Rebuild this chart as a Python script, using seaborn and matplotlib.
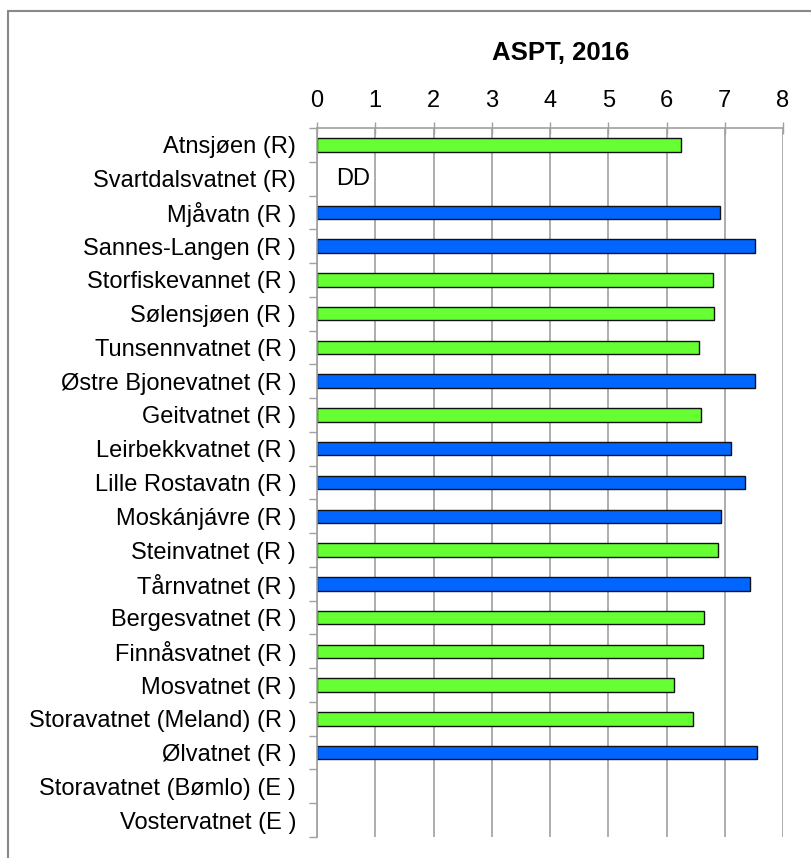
import matplotlib
matplotlib.use("Agg")
import matplotlib.pyplot as plt
import numpy as np
import pandas as pd
import seaborn as sns

lakes = [
    "Atnsjøen (R)", "Svartdalsvatnet (R)", "Mjåvatn (R )", "Sannes-Langen (R )",
    "Storfiskevannet (R )", "Sølensjøen (R )", "Tunsennvatnet (R )",
    "Østre Bjonevatnet (R )", "Geitvatnet (R )", "Leirbekkvatnet (R )",
    "Lille Rostavatn (R )", "Moskánjávre (R )", "Steinvatnet (R )",
    "Tårnvatnet (R )", "Bergesvatnet (R )", "Finnåsvatnet (R )",
    "Mosvatnet (R )", "Storavatnet (Meland) (R )", "Ølvatnet (R )",
    "Storavatnet (Bømlo) (E )", "Vostervatnet (E )",
]
aspt = [6.25, np.nan, 6.92, 7.52, 6.79, 6.82, 6.56, 7.52, 6.60, 7.10,
        7.34, 6.94, 6.89, 7.44, 6.65, 6.63, 6.13, 6.46, 7.56, np.nan, np.nan]
group = ["g", "none", "b", "b", "g", "g", "g", "b", "g", "b",
         "b", "b", "g", "b", "g", "g", "g", "g", "b", "none", "none"]
x_ticks = [0, 1, 2, 3, 4, 5, 6, 7, 8]

df = pd.DataFrame({"Lake": lakes, "ASPT": aspt, "Group": group})
palette = {"g": "#66FF33", "b": "#0066FF", "none": "white"}

sns.set_style("white")
plt.rcParams["font.family"] = ["Liberation Sans", "DejaVu Sans"]
plt.rcParams["text.color"] = "black"

fig = plt.figure(figsize=(8.12, 8.58), dpi=100)
ax = fig.add_axes([0.3904, 0.0245, 0.5739, 0.8263])

sns.barplot(data=df.dropna(), x="ASPT", y="Lake", hue="Group", order=lakes,
            palette=palette, saturation=1, dodge=False, width=0.4, orient="h",
            edgecolor="#111111", linewidth=1, legend=False, ax=ax)

ax.set_xlim(0, 8)
ax.set_ylim(len(lakes) - 0.5, -0.5)
ax.set_xticks(x_ticks)
ax.xaxis.tick_top()
ax.tick_params(axis="x", which="major", direction="inout", length=9, width=1,
               color="#A0A0A0", labelsize=17, labelcolor="black", pad=7)
ax.set_xlabel("")
ax.set_ylabel("")
ax.grid(axis="x", color="#A0A0A0", linewidth=1.2)
ax.set_axisbelow(True)

ax.set_yticks(np.arange(len(lakes)))
ax.set_yticklabels(lakes)
ax.set_yticks(np.arange(len(lakes) + 1) - 0.5, minor=True)
ax.tick_params(axis="y", which="major", length=0, labelsize=17,
               labelcolor="black", pad=15)
ax.tick_params(axis="y", which="minor", direction="out", length=6, width=1,
               color="#A0A0A0", left=True)

for side in ["right", "bottom"]:
    ax.spines[side].set_visible(False)
for side in ["top", "left"]:
    ax.spines[side].set_color("#A0A0A0")
    ax.spines[side].set_linewidth(1.2)

ax.text(0.33, 1, "DD", fontsize=17, ha="left", va="center")

fig.text(561 / 812, 1 - 53 / 858, "ASPT, 2016", ha="center", va="center",
         fontsize=18.5, fontweight="bold")

# outer chart frame
fig.add_artist(plt.Line2D([8 / 812, 1], [1 - 11 / 858, 1 - 11 / 858],
                          color="#888888", linewidth=1.5))
fig.add_artist(plt.Line2D([8 / 812, 8 / 812], [1 - 11 / 858, 0],
                          color="#888888", linewidth=1.5))

fig.savefig("out.png", dpi=100)
plt.close(fig)
